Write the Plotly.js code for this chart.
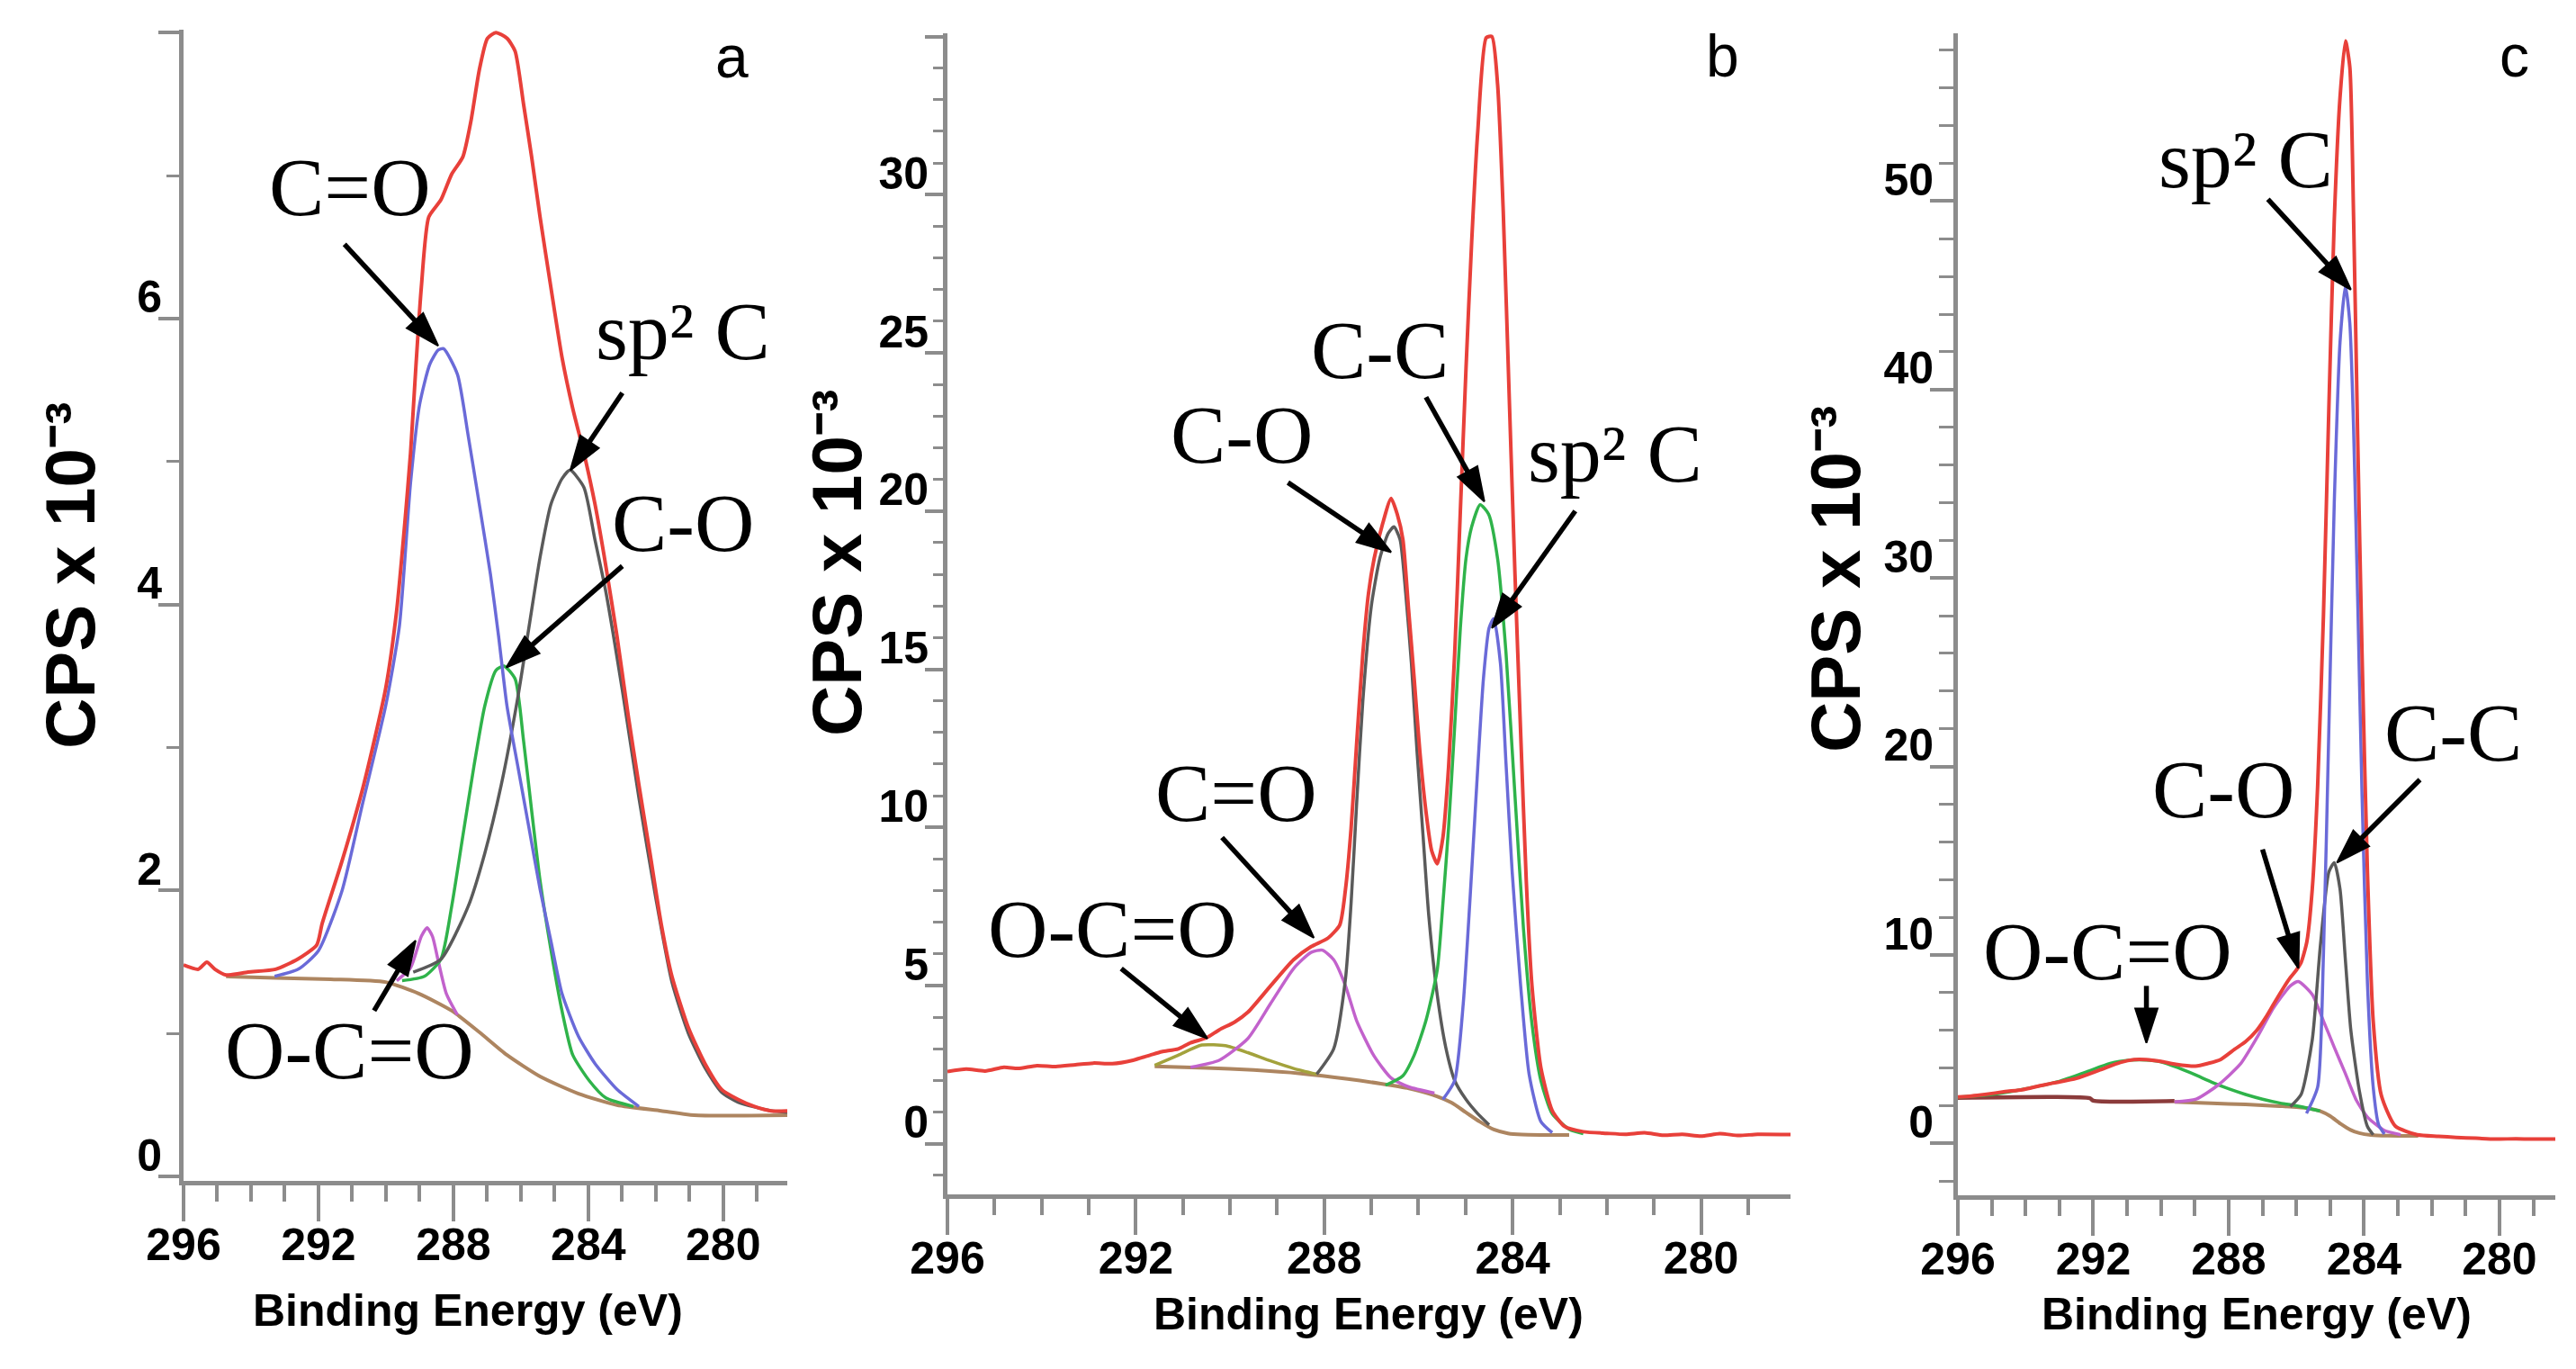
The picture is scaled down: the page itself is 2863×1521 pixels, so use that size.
<!DOCTYPE html>
<html>
<head>
<meta charset="utf-8">
<script src="https://cdn.plot.ly/plotly-3.0.1.min.js"></script>
<style>html,body{margin:0;padding:0;background:#fff;}#chart{width:2863px;height:1521px;}</style>
</head>
<body>
<div id="chart"></div>
<script>
// ---------- Panel a ----------
const aEnvE = [296.0,295.56,295.31,295.07,294.74,294.09,293.27,292.62,292.05,291.89,291.31,290.66,290.01,289.68,289.44,289.27,289.11,288.95,288.73,288.37,288.05,287.72,287.48,287.23,286.99,286.74,286.41,286.17,285.92,285.68,285.43,285.11,284.78,284.46,284.13,283.80,283.48,283.15,282.82,282.50,282.17,281.84,281.52,281.03,280.54,280.05,279.56,279.07,278.58,278.1];
const aEnvV = [1.48,1.45,1.50,1.45,1.41,1.43,1.45,1.52,1.62,1.77,2.20,2.74,3.41,3.96,4.57,5.06,5.67,6.22,6.71,6.83,7.01,7.13,7.38,7.74,7.96,8.00,7.96,7.87,7.50,7.13,6.71,6.22,5.73,5.37,5.06,4.70,4.27,3.78,3.23,2.74,2.26,1.77,1.40,1.04,0.79,0.61,0.54,0.49,0.46,0.46];
const aCdoE = [293.3,292.6,292.0,291.3,290.7,290.0,289.6,289.27,289.0,288.7,288.45,288.29,287.88,287.56,287.23,286.9,286.66,286.41,286.09,285.76,285.43,285.11,284.78,284.29,283.8,283.15,282.5];
const aCdoV = [1.40,1.45,1.58,2.0,2.6,3.3,3.85,4.85,5.4,5.68,5.78,5.79,5.61,5.18,4.70,4.21,3.78,3.29,2.87,2.44,2.01,1.65,1.28,0.98,0.79,0.61,0.49];
const aSp2E = [289.19,288.37,287.56,287.07,286.58,286.09,285.76,285.43,285.11,284.78,284.54,284.13,283.80,283.48,282.99,282.5,282.0,281.52,281.03,280.54,280.05,279.56,278.58,278.1];
const aSp2V = [1.43,1.52,1.89,2.26,2.74,3.35,3.84,4.33,4.70,4.88,4.94,4.82,4.45,4.09,3.40,2.65,1.95,1.36,1.00,0.76,0.59,0.52,0.46,0.45];
const aCoE = [289.52,288.86,288.37,288.05,287.72,287.39,287.07,286.74,286.5,286.17,285.92,285.68,285.43,285.11,284.78,284.46,283.97,283.48,282.66];
const aCoV = [1.37,1.40,1.52,1.89,2.38,2.87,3.29,3.54,3.57,3.48,3.05,2.56,2.07,1.59,1.16,0.85,0.67,0.55,0.49];
const aOcoE = [289.68,289.27,288.95,288.78,288.62,288.46,288.21,287.88];
const aOcoV = [1.37,1.46,1.68,1.74,1.68,1.52,1.28,1.13];
const aBgE = [294.74,293.27,291.64,290.01,289.03,288.05,287.23,286.41,285.43,284.29,283.15,281.84,280.86,278.1];
const aBgV = [1.40,1.39,1.38,1.36,1.28,1.16,1.01,0.85,0.70,0.58,0.50,0.46,0.43,0.43];

// ---------- Panel b ----------
const bEnvE = [296.0,295.6,295.2,294.8,294.5,294.1,293.7,293.28,292.9,292.5,292.06,291.7,291.45,291.1,290.84,290.5,290.23,289.9,289.62,289.14,288.65,288.28,287.92,287.67,287.55,287.43,287.31,287.18,287.06,286.94,286.76,286.58,286.45,286.33,286.21,286.09,285.97,285.84,285.72,285.60,285.48,285.36,285.23,285.11,284.99,284.87,284.74,284.56,284.44,284.32,284.20,284.07,283.95,283.83,283.71,283.59,283.40,283.16,282.90,282.50,282.0,281.6,281.2,280.8,280.4,280.0,279.6,279.2,278.8,278.1];
const bEnvV = [2.28,2.36,2.30,2.42,2.38,2.47,2.44,2.50,2.55,2.53,2.64,2.80,2.91,3.00,3.19,3.35,3.60,3.85,4.16,4.99,5.82,6.23,6.50,6.92,8.03,9.96,12.7,15.5,17.4,18.5,19.6,20.4,19.9,19.1,16.9,14.7,12.4,10.5,9.27,8.85,9.68,11.9,15.5,20.0,24.5,28.5,32.0,34.96,35.0,33.5,29.5,23.5,18.0,13.0,8.3,5.0,2.4,1.05,0.55,0.38,0.33,0.30,0.35,0.27,0.30,0.24,0.32,0.26,0.30,0.29];
const bCoE = [288.16,287.8,287.55,287.43,287.31,287.18,287.0,286.82,286.64,286.52,286.39,286.27,286.15,286.03,285.9,285.78,285.6,285.42,285.23,284.99,284.74,284.5];
const bCoV = [2.2,3.0,5.2,7.6,10.8,14.0,17.0,18.5,19.3,19.5,19.1,17.4,15.2,12.4,9.7,7.2,4.7,3.05,2.0,1.4,0.95,0.6];
const bCdoE = [290.84,290.23,289.62,289.14,288.65,288.28,288.04,287.8,287.55,287.31,286.94,286.58,286.21,285.66];
const bCdoV = [2.42,2.64,3.33,4.43,5.54,6.05,6.12,5.82,5.0,3.88,2.77,2.08,1.80,1.6];
const bOcoE = [291.6,291.1,290.6,290.1,289.62,289.14,288.65,288.16];
const bOcoV = [2.48,2.80,3.12,3.10,2.88,2.62,2.38,2.2];
const bCcE = [286.7,286.33,286.09,285.84,285.6,285.48,285.36,285.23,285.11,284.99,284.87,284.69,284.51,284.32,284.14,283.95,283.77,283.59,283.4,283.16,282.79,282.5];
const bCcV = [1.85,2.15,2.8,3.9,5.5,7.6,10.0,13.2,16.3,18.5,19.5,20.2,19.9,18.5,15.5,11.0,6.8,3.8,2.0,0.95,0.45,0.32];
const bSp2E = [285.48,285.23,285.05,284.87,284.74,284.62,284.5,284.4,284.26,284.14,284.01,283.83,283.65,283.4,283.16];
const bSp2V = [1.4,2.0,4.4,8.6,11.9,14.7,16.3,16.6,15.2,12.0,8.6,5.0,2.2,0.7,0.35];
const bBgE = [291.6,290.5,289.5,288.5,287.5,286.8,286.2,285.7,285.3,285.0,284.7,284.4,284.1,283.8,283.4,282.8];
const bBgV = [2.45,2.40,2.33,2.22,2.05,1.9,1.75,1.55,1.3,1.0,0.7,0.45,0.33,0.29,0.28,0.28];

// ---------- Panel c ----------
const cEnvE = [296.0,295.6,295.2,294.6,294.1,293.6,293.2,292.5,291.8,291.2,290.8,290.44,290.0,289.56,288.98,288.6,288.24,287.82,287.5,287.17,286.9,286.67,286.4,286.18,286.0,285.86,285.69,285.53,285.37,285.2,285.04,284.88,284.71,284.55,284.42,284.31,284.19,284.06,283.9,283.73,283.49,283.08,282.43,281.8,281.28,280.7,280.14,279.5,278.9,278.35];
const cEnvV = [2.47,2.52,2.60,2.75,2.85,3.05,3.20,3.45,3.90,4.30,4.45,4.45,4.35,4.20,4.10,4.25,4.45,5.00,5.40,6.00,6.70,7.40,8.20,8.80,9.20,9.60,10.7,13.5,19.0,28.0,39.0,49.0,55.5,58.5,57.1,49.2,37.6,26.0,14.4,6.5,2.55,0.93,0.46,0.38,0.32,0.28,0.23,0.25,0.23,0.23];
const cOcoE = [296.0,295.0,294.0,293.0,292.2,291.5,290.9,290.44,290.0,289.5,289.0,288.5,288.0,287.5,287.0,286.5,286.19,285.6,285.3];
const cOcoV = [2.45,2.6,2.9,3.3,3.8,4.25,4.42,4.43,4.33,4.02,3.65,3.25,2.9,2.6,2.35,2.15,2.06,1.85,1.72];
const cCoE = [289.6,288.96,288.31,287.66,287.17,286.67,286.18,285.94,285.53,285.2,284.88,284.55,284.23,283.9,283.41,282.92];
const cCoV = [2.2,2.35,3.1,4.2,5.6,7.2,8.36,8.59,7.9,6.5,5.1,3.7,2.3,1.4,0.7,0.46];
const cCcE = [286.18,285.86,285.53,285.29,285.04,284.88,284.71,284.55,284.39,284.14,283.9,283.73];
const cCcV = [1.95,2.6,5.5,10.5,14.4,14.9,13.5,9.7,6.0,2.8,0.9,0.46];
const cSp2E = [285.7,285.37,285.2,285.04,284.88,284.71,284.55,284.42,284.31,284.19,284.06,283.9,283.73,283.57,283.4];
const cSp2V = [1.6,3.0,10.0,22.0,34.0,42.5,45.5,43.5,38.0,29.0,18.5,8.5,3.0,1.0,0.5];
const cBg1E = [296.0,292.1,292.0,289.6];
const cBg1V = [2.42,2.40,2.27,2.25];
const cBg2E = [289.6,288.5,287.5,286.5,286.0,285.6,285.3,285.0,284.7,284.4,284.14,283.8,283.3,282.4];
const cBg2V = [2.2,2.13,2.07,1.98,1.93,1.85,1.72,1.45,1.05,0.72,0.55,0.45,0.41,0.40];

// ---------- tick labels ----------
const xTicks = [296,292,288,284,280];
const aYTicks = [0,2,4,6,8],        aYText = ['0','2','4','6',''];
const bYTicks = [0,5,10,15,20,25,30,35], bYText = ['0','5','10','15','20','25','30',''];
const cYTicks = [0,10,20,30,40,50], cYText = ['0','10','20','30','40','50'];

// ---------- styles ----------
const RED='#e8403a', BLUE='#6a6ad8', GREEN='#2fb34a', GRAY='#5a5a5a', MAG='#c262cc', BROWN='#ad8560', OLIVE='#a3a23c', MAROON='#8b3b3b';
const AX='#8c8c8c';
const SANS='Liberation Sans, Arial, sans-serif';
const SERIF='Liberation Serif, Times New Roman, serif';

function ln(x,y,color,xa,ya,w){
  return {type:'scatter',mode:'lines',x:x,y:y,xaxis:xa,yaxis:ya,hoverinfo:'skip',
    line:{color:color,width:w||3.5,shape:'spline',smoothing:0.6}};
}
// arrow: tail (te,tv) -> head (he,hv), in data coordinates
function arrow(te,tv,he,hv,xa,ya){
  return {type:'scatter',mode:'lines+markers',x:[te,he],y:[tv,hv],xaxis:xa,yaxis:ya,hoverinfo:'skip',
    line:{color:'#000',width:5.5},
    marker:{symbol:['circle','arrow'],size:[0,40],color:'#000',opacity:1,angleref:'previous',line:{width:2,color:'#000'}}};
}
const data = [
  ln(aBgE,aBgV,BROWN,'x','y',4), ln(aOcoE,aOcoV,MAG,'x','y'), ln(aCoE,aCoV,GREEN,'x','y'),
  ln(aSp2E,aSp2V,GRAY,'x','y'), ln(aCdoE,aCdoV,BLUE,'x','y'), ln(aEnvE,aEnvV,RED,'x','y',4),
  ln(bBgE,bBgV,BROWN,'x2','y2',4), ln(bOcoE,bOcoV,OLIVE,'x2','y2'), ln(bCdoE,bCdoV,MAG,'x2','y2'),
  ln(bCoE,bCoV,GRAY,'x2','y2'), ln(bCcE,bCcV,GREEN,'x2','y2'), ln(bSp2E,bSp2V,BLUE,'x2','y2'),
  ln(bEnvE,bEnvV,RED,'x2','y2',4),
  ln(cBg1E,cBg1V,MAROON,'x3','y3',4.5), ln(cBg2E,cBg2V,BROWN,'x3','y3',4), ln(cOcoE,cOcoV,GREEN,'x3','y3'),
  ln(cCoE,cCoV,MAG,'x3','y3'), ln(cCcE,cCcV,GRAY,'x3','y3'), ln(cSp2E,cSp2V,BLUE,'x3','y3'),
  ln(cEnvE,cEnvV,RED,'x3','y3',4),
  // annotation arrows
  arrow(291.23,6.52,288.45,5.81,'x','y'), arrow(282.99,5.48,284.53,4.94,'x','y'),
  arrow(282.99,4.27,286.43,3.56,'x','y'), arrow(290.35,1.16,289.12,1.65,'x','y'),
  arrow(285.84,23.6,284.60,20.3,'x2','y2'), arrow(282.67,20.0,284.44,16.3,'x2','y2'),
  arrow(288.77,20.9,286.58,18.7,'x2','y2'), arrow(290.17,9.68,288.22,6.51,'x2','y2'),
  arrow(292.31,5.54,290.48,3.33,'x2','y2'),
  arrow(286.84,50.1,284.39,45.3,'x3','y3'), arrow(282.35,19.3,284.80,14.9,'x3','y3'),
  arrow(287.0,15.6,285.94,9.3,'x3','y3'), arrow(290.43,8.36,290.43,5.34,'x3','y3')
];

const W=2863, H=1521;
function xax(l,r,end,anchor){
  return {domain:[l/W,r/W],range:[296,end],anchor:anchor,tickmode:'array',tickvals:xTicks,
    ticktext:xTicks.map(String),ticks:'outside',ticklen:40,tickwidth:4,tickcolor:AX,
    showline:true,linecolor:AX,linewidth:5,showgrid:false,zeroline:false,ticklabelstandoff:-17,
    tickfont:{family:SANS,size:50,color:'#000',weight:'bold'},
    minor:{dtick:1,tick0:296,ticks:'outside',ticklen:18,tickwidth:4,tickcolor:AX,showgrid:false}};
}
function yax(b,t,range,tv,tt,mdt,anchor,tlen,mlen){
  return {domain:[1-b/H,1-t/H],range:range,anchor:anchor,tickmode:'array',tickvals:tv,ticktext:tt,
    ticks:'outside',ticklen:tlen,tickwidth:4,tickcolor:AX,showline:true,linecolor:AX,linewidth:5,
    showgrid:false,zeroline:false,ticklabelshift:-24,ticklabelstandoff:-14,
    tickfont:{family:SANS,size:50,color:'#000',weight:'bold'},
    minor:{dtick:mdt,tick0:0,ticks:'outside',ticklen:mlen,tickwidth:3,tickcolor:AX,showgrid:false}};
}
function txt(xr,yr,x,y,s,size,fam){
  return {xref:xr,yref:yr,x:x,y:y,text:s,showarrow:false,font:{family:fam||SERIF,size:size||92,color:'#000'},xanchor:'center',yanchor:'middle'};
}
function ytitle(px,py){
  return {xref:'paper',yref:'paper',x:px/W,y:1-py/H,text:'CPS x 10⁻³',textangle:-90,showarrow:false,
    xanchor:'center',yanchor:'middle',font:{family:SANS,size:78,color:'#000',weight:'bold'}};
}
function xtitle(px,py){
  return {xref:'paper',yref:'paper',x:px/W,y:1-py/H,text:'Binding Energy (eV)',showarrow:false,
    xanchor:'center',yanchor:'middle',font:{family:SANS,size:50,color:'#000',weight:'bold'}};
}
const annotations = [
  txt('x','y',291.07,6.92,'C=O'),
  txt('x','y',281.2,5.91,'sp² C'),
  txt('x','y',281.2,4.57,'C-O'),
  txt('x','y',291.07,0.88,'O-C=O'),
  txt('x','y',279.73,7.83,'a',66,SANS),
  txt('x2','y2',286.82,25.1,'C-C'),
  txt('x2','y2',281.82,21.8,'sp² C'),
  txt('x2','y2',289.75,22.4,'C-O'),
  txt('x2','y2',289.87,11.1,'C=O'),
  txt('x2','y2',292.49,6.78,'O-C=O'),
  txt('x2','y2',279.54,34.4,'b',66,SANS),
  txt('x3','y3',287.49,52.2,'sp² C'),
  txt('x3','y3',281.37,21.8,'C-C'),
  txt('x3','y3',288.15,18.8,'C-O'),
  txt('x3','y3',291.58,10.2,'O-C=O'),
  txt('x3','y3',279.56,57.7,'c',66,SANS),
  ytitle(78,639), ytitle(930,625), ytitle(2040,643),
  xtitle(520,1456), xtitle(1521,1460), xtitle(2508,1460)
];

const layout = {
  width:W,height:H,margin:{l:0,r:0,t:0,b:0},paper_bgcolor:'#fff',plot_bgcolor:'#fff',showlegend:false,
  xaxis:xax(204,875,278.1,'y'),
  xaxis2:xax(1053,1990,278.1,'y2'),
  xaxis3:xax(2176,2840,278.35,'y3'),
  yaxis:yax(1312,33,[-0.03,8.02],aYTicks,aYText,1,'x',23,14),
  yaxis2:yax(1327,37,[-1.6,35.1],bYTicks,bYText,1,'x2',20,11),
  yaxis3:yax(1328,37,[-2.75,58.9],cYTicks,cYText,2,'x3',26,16),
  annotations:annotations
};
Plotly.newPlot('chart',data,layout,{staticPlot:true});
</script>
</body>
</html>
